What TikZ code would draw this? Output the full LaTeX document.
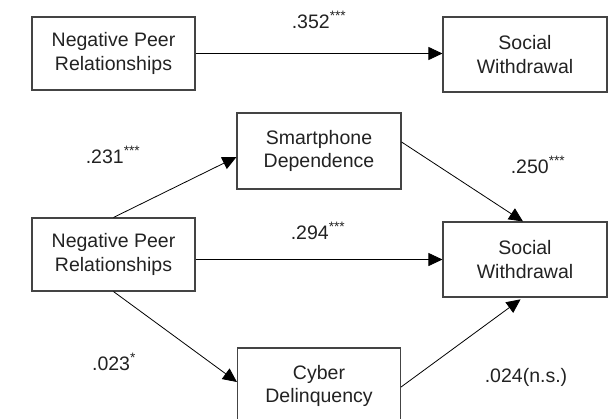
\documentclass[tikz,border=0pt]{standalone}
\usepackage{fontspec}
\setmainfont{Liberation Sans}
\usetikzlibrary{arrows.meta}
\definecolor{boxline}{HTML}{444444}
\definecolor{txt}{HTML}{222222}
\newcommand{\stars}[1]{\textsuperscript{#1}}
\begin{document}
\begin{tikzpicture}[x=1bp,y=-1bp,
  font=\fontsize{19.5bp}{23.5bp}\selectfont,
  varbox/.style={draw=boxline, line width=1.1bp, minimum width=164bp, minimum height=75bp,
    inner sep=0pt, align=center, text=txt},
  pathline/.style={draw=black, line width=0.8bp, -{Triangle[length=14bp,width=13bp]}},
  coef/.style={text=txt, inner sep=0pt}]
\useasboundingbox (0,0) rectangle (609,418);
% top model
\node[varbox, minimum width=163bp, minimum height=73bp] (np1) at (113.5,53.5) {Negative Peer\\Relationships};
\node[varbox] (sw1) at (525,54.5) {Social\\Withdrawal};
\draw[pathline] (np1.east) -- (np1.east -| sw1.west);
\node[coef] (c1) at (319,20) {.352\stars{***}};
% bottom model
\node[varbox, minimum height=76bp] (sp) at (319,151) {Smartphone\\Dependence};
\node[varbox, minimum width=163bp, minimum height=73bp] (np2) at (113.5,254.5) {Negative Peer\\Relationships};
\node[varbox] (sw2) at (525,259.5) {Social\\Withdrawal};
\node[varbox, minimum width=163bp, minimum height=76bp] (cy) at (319,386) {Cyber\\Delinquency};
\draw[pathline] (np2.north) -- ([yshift=-6bp]sp.west);
\draw[pathline] ([yshift=9bp]sp.east) -- ([xshift=-2bp]sw2.north);
\draw[pathline] (np2.east |- sw2.west) -- (sw2.west);
\draw[pathline] (np2.south) -- ([yshift=4bp]cy.west);
\draw[pathline, shorten >=3bp] ([yshift=-1bp]cy.east) -- ([xshift=-2bp]sw2.south);
\node[coef] (c2) at (113,155) {.231\stars{***}};
\node[coef] (c3) at (318,231) {.294\stars{***}};
\node[coef] (c4) at (538,165) {.250\stars{***}};
\node[coef] (c5) at (114,362) {.023\stars{*}};
\node[coef] (c6) at (526,377) {.024(n.s.)};
\end{tikzpicture}
\end{document}
